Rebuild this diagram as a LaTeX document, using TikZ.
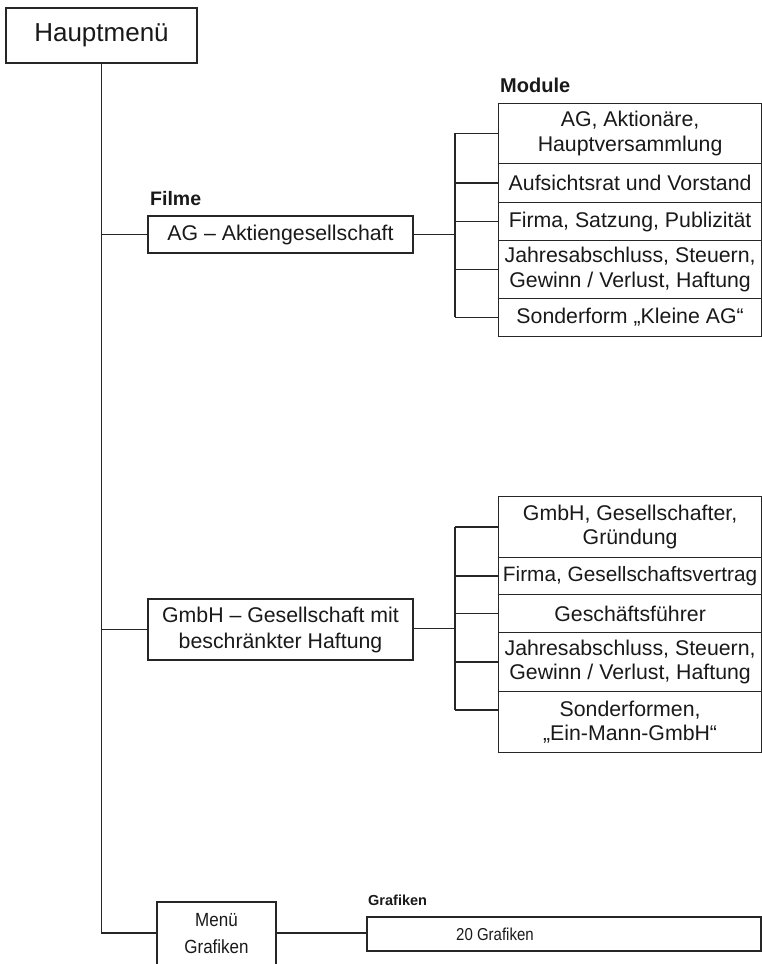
\documentclass[tikz,border=0pt]{standalone}
\usepackage{fontspec}
\setmainfont{Liberation Sans}
\begin{document}
\begin{tikzpicture}[x=1pt,y=-1pt,
  box/.style={draw=black!85, line width=1.2pt, inner sep=0pt, align=center, text=black!90},
  mod/.style={box, minimum width=263pt, anchor=north west, font=\fontsize{21.3}{24.5}\selectfont},
  conn/.style={draw=black!85, line width=1.3pt},
  lbl/.style={font=\bfseries, anchor=base west, inner sep=0pt, text=black!90}]
\useasboundingbox (0,0) rectangle (762,964);
\clip (0,0) rectangle (762,964);
% Hauptmenü
\node[box, line width=2pt, minimum width=191pt, minimum height=55pt, font=\fontsize{26}{30}\selectfont] (haupt) at (101.5,35.5) {Hauptmenü};
% level 1
\node[box, minimum width=265pt, minimum height=37pt, font=\fontsize{21.3}{24.5}\selectfont] (ag) at (280.5,234.5) {AG -- Aktiengesellschaft};
\node[box, minimum width=265pt, minimum height=61pt, font=\fontsize{21.3}{26}\selectfont] (gmbh) at (280.5,629.5) {GmbH -- Gesellschaft mit\\beschränkter Haftung};
\node[box, minimum width=119pt, minimum height=64pt, font=\fontsize{17}{26}\selectfont] (menu) at (216.5,934) {\scalebox{1}[1.12]{Menü}\\[1pt]\scalebox{1}[1.12]{Grafiken}};
\node[lbl, font=\bfseries\fontsize{19.5}{22}\selectfont] (filme) at (150,205) {Filme};
% main tree
\coordinate (bot) at (101.5,933);
\coordinate (jag) at (101.5,234.5);
\coordinate (jgm) at (101.5,629.5);
\draw[conn, line width=1.5pt] (haupt.south) -- (bot) -- (menu.west |- bot);
\draw[conn] (jag) -- (ag.west);
\draw[conn] (jgm) -- (gmbh.west);
% Module AG
\node[lbl, font=\bfseries\fontsize{20}{22}\selectfont] (modlbl) at (500,92) {Module};
\node[mod, minimum height=60pt] (a1) at (498,103) {AG, Aktionäre,\\Hauptversammlung};
\node[mod, minimum height=39pt] (a2) at (498,163) {Aufsichtsrat und Vorstand};
\node[mod, minimum height=38pt] (a3) at (498,202) {Firma, Satzung, Publizität};
\node[mod, minimum height=58pt] (a4) at (498,240) {Jahresabschluss, Steuern,\\Gewinn / Verlust, Haftung};
\node[mod, minimum height=38pt] (a5) at (498,298) {Sonderform \char"201E Kleine AG\char"201C};
\coordinate (ba) at (455,234.5);
\draw[conn, line width=1.8pt] (ag.east) -- (ba);
\draw[conn] (455,133) -- (455,317);
\foreach \n in {a1,a2,a3,a4,a5} \draw[conn] (\n.west) -- (\n.west -| ba);
% Module GmbH
\node[mod, minimum height=61pt] (g1) at (498,496) {GmbH, Gesellschafter,\\Gründung};
\node[mod, minimum height=37pt, font=\fontsize{20.8}{24.5}\selectfont] (g2) at (498,557) {Firma, Gesellschaftsvertrag};
\node[mod, minimum height=38pt] (g3) at (498,594) {Geschäftsführer};
\node[mod, minimum height=59pt] (g4) at (498,632) {Jahresabschluss, Steuern,\\Gewinn / Verlust, Haftung};
\node[mod, minimum height=61pt] (g5) at (498,691) {Sonderformen,\\\char"201E Ein-Mann-GmbH\char"201C};
\coordinate (bg) at (455,628.5);
\draw[conn, line width=1.8pt] (gmbh.east |- bg) -- (bg);
\draw[conn] (455,526.5) -- (455,710);
\foreach \n in {g1,g2,g3,g4} \draw[conn] (\n.west) -- (\n.west -| bg);
\draw[conn] (g5.west |- 0,710) -- (455,710);
% Grafiken
\node[lbl, font=\bfseries\fontsize{14.5}{17}\selectfont] (graflbl) at (368,905) {Grafiken};
\node[box, minimum width=394pt, minimum height=34pt] (graf) at (564,934) {};
\node[inner sep=0pt, text=black!90, font=\fontsize{15}{18}\selectfont] (graft) at (495,934) {\scalebox{1}[1.15]{20 Grafiken}};
\draw[conn] (menu.east |- bot) -- (graf.west |- bot);
\end{tikzpicture}
\end{document}
